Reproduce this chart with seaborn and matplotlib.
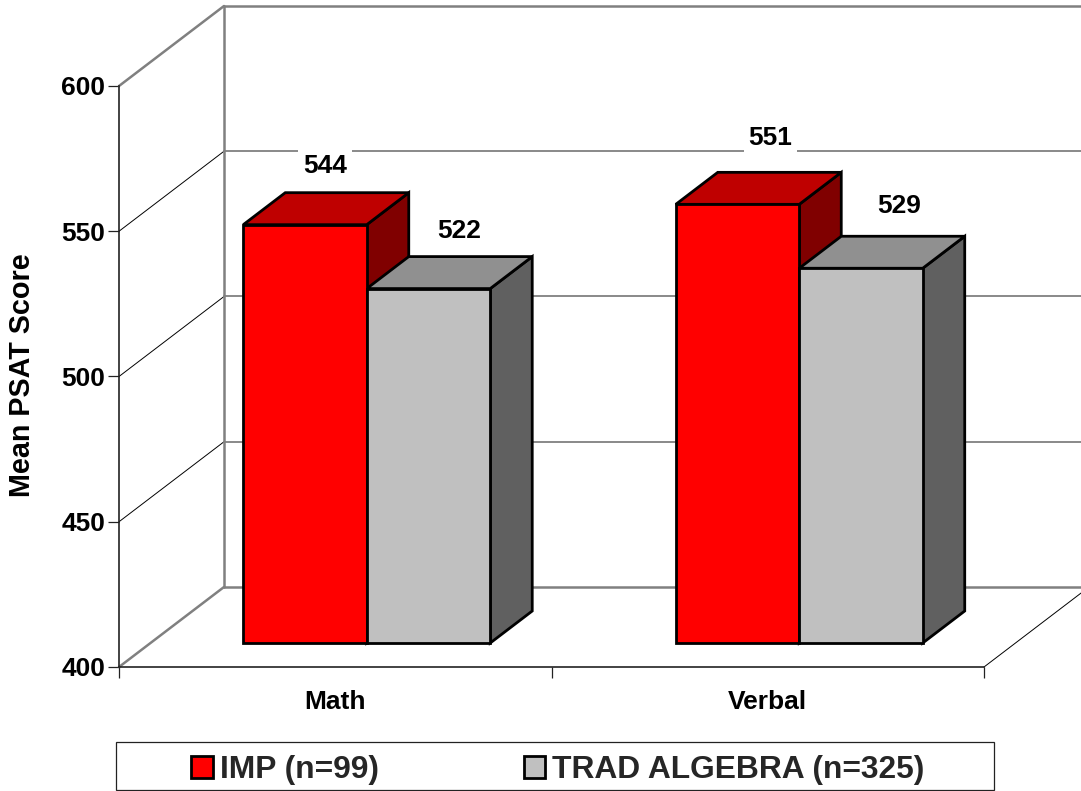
import matplotlib
matplotlib.use('Agg')
import matplotlib.pyplot as plt
import matplotlib.transforms as mtrans
from matplotlib.patches import Polygon, Rectangle
import pandas as pd
import seaborn as sns

# Data
subjects = ['Math', 'Verbal']
imp_scores = [544, 551]
trad_scores = [522, 529]
group_names = ['IMP (n=99)', 'TRAD ALGEBRA (n=325)']
y_ticks = [400, 450, 500, 550, 600]

front_colors = ['#ff0000', '#c0c0c0']
top_colors = ['#bf0000', '#909090']
side_colors = ['#800000', '#606060']

# fake 3D geometry, in pixels
W, H = 1081, 791
AX_L, AX_R, AX_T, AX_B = 119, 984, 86, 667
WALL_DX, WALL_DY = 105, 80
BAR_SHIFT_X, BAR_SHIFT_Y = 31.5, 24
BAR_DX, BAR_DY = 42, 32
# where each value label sits relative to the top of its bar
label_offsets = [(20, 59), (31, 58), (33, 66), (38, 62)]

sns.set_theme(style='white')
plt.rcParams['font.family'] = ['Liberation Sans', 'DejaVu Sans']
plt.rcParams['font.weight'] = 'bold'

df = pd.DataFrame({
    'subject': subjects * 2,
    'score': imp_scores + trad_scores,
    'group': [group_names[0]] * 2 + [group_names[1]] * 2,
})

fig = plt.figure(figsize=(W / 100, H / 100), dpi=100)
ax = fig.add_axes([AX_L / W, 1 - AX_B / H, (AX_R - AX_L) / W, (AX_B - AX_T) / H])

sns.barplot(data=df, x='subject', y='score', hue='group', hue_order=group_names,
            palette=front_colors, saturation=1, width=0.571, gap=0,
            edgecolor='black', linewidth=2.0, ax=ax)
ax.set_xlim(-0.5, 1.5)
ax.set_ylim(y_ticks[0], y_ticks[-1])

# pixels to data units
ux = (AX_R - AX_L) / 2
uy = (AX_B - AX_T) / (y_ticks[-1] - y_ticks[0])
wall_x, wall_y = WALL_DX / ux, WALL_DY / uy

# walls and floor
grey = '#808080'
x0, x1 = ax.get_xlim()
for tick in y_ticks:
    edge = tick in (y_ticks[0], y_ticks[-1])
    ax.plot([x0, x0 + wall_x], [tick, tick + wall_y], color=grey if edge else 'black',
            lw=1.8 if edge else 0.7, clip_on=False, zorder=1)
    ax.plot([x0 + wall_x, x1 + wall_x], [tick + wall_y] * 2, color=grey,
            lw=1.8 if edge else 1.3, clip_on=False, zorder=1)
ax.plot([x0 + wall_x] * 2, [y_ticks[0] + wall_y, y_ticks[-1] + wall_y], color=grey,
        lw=1.8, clip_on=False, zorder=1)
ax.plot([x1, x1 + wall_x], [y_ticks[0], y_ticks[0] + wall_y], color='black', lw=0.7,
        clip_on=False, zorder=1)

# push the bars into the box and add their top and side faces
shift = ax.transData + mtrans.Affine2D().translate(BAR_SHIFT_X, BAR_SHIFT_Y)
bx, by = BAR_DX / ux, BAR_DY / uy
for i, bars in enumerate(ax.containers):
    for bar in bars:
        value = bar.get_height()
        left = bar.get_x()
        right = left + bar.get_width()
        bar.set_y(y_ticks[0])
        bar.set_height(value - y_ticks[0])
        bar.set_transform(shift)
        bar.set_clip_on(False)
        bar.set_zorder(3)
        bar.set_joinstyle('miter')
        top = Polygon([(left, value), (left + bx, value + by), (right + bx, value + by), (right, value)],
                      closed=True, fc=top_colors[i], ec='black', lw=2.0, transform=shift,
                      clip_on=False, zorder=2 + i / 10)
        side = Polygon([(right, y_ticks[0]), (right + bx, y_ticks[0] + by), (right + bx, value + by), (right, value)],
                       closed=True, fc=side_colors[i], ec='black', lw=2.0, transform=shift,
                       clip_on=False, zorder=2 + i / 10)
        ax.add_patch(side)
        ax.add_patch(top)

# value labels, in reading order of the categories
all_bars = [b for pair in zip(*ax.containers) for b in pair]
for bar, (ox, oy) in zip(all_bars, label_offsets):
    value = bar.get_y() + bar.get_height()
    ax.annotate(f'{value:.0f}', xy=(bar.get_x() + bar.get_width() / 2, value), xycoords=shift,
                xytext=(ox, oy), textcoords='offset pixels', ha='center', va='center',
                fontsize=19, fontweight='bold', color='black', zorder=5,
                bbox=dict(fc='white', ec='none', pad=3.5))

# axes
sns.despine(ax=ax)
for name in ('left', 'bottom'):
    ax.spines[name].set_color('#222222')
    ax.spines[name].set_linewidth(1.2)
    ax.spines[name].set_zorder(4)
ax.set_yticks(y_ticks)
ax.set_xticks([-0.5, 0.5, 1.5], minor=True)
ax.tick_params(axis='y', left=True, length=8, width=0.9, color='#222222', labelsize=19, pad=2)
ax.tick_params(axis='x', which='major', bottom=False, labelsize=19, pad=10.5)
ax.tick_params(axis='x', which='minor', bottom=True, length=8, width=0.9, color='#222222')
for lab in ax.get_yticklabels() + ax.get_xticklabels():
    lab.set_fontweight('bold')
    lab.set_color('black')
ax.set_xlabel('')
ax.set_ylabel('')
fig.text(22 / W, 1 - 375 / H, 'Mean PSAT Score', rotation=90, ha='center', va='center',
         fontsize=20.7, fontweight='bold', color='black')

# legend, in its own box
handles, labels = ax.get_legend_handles_labels()
ax.legend(handles, labels, loc='center', bbox_to_anchor=(558 / W, 1 - 770 / H),
          bbox_transform=fig.transFigure, ncols=2, frameon=False, handlelength=0.68,
          handleheight=0.68, handletextpad=0.22, columnspacing=4.55, borderpad=0,
          prop={'size': 22.9, 'weight': 'bold'})
fig.add_artist(Rectangle((116 / W, 1 - 790 / H), 878 / W, 48 / H, transform=fig.transFigure,
                         fill=False, ec='#222222', lw=0.9))

fig.savefig('out.png', dpi=100)
